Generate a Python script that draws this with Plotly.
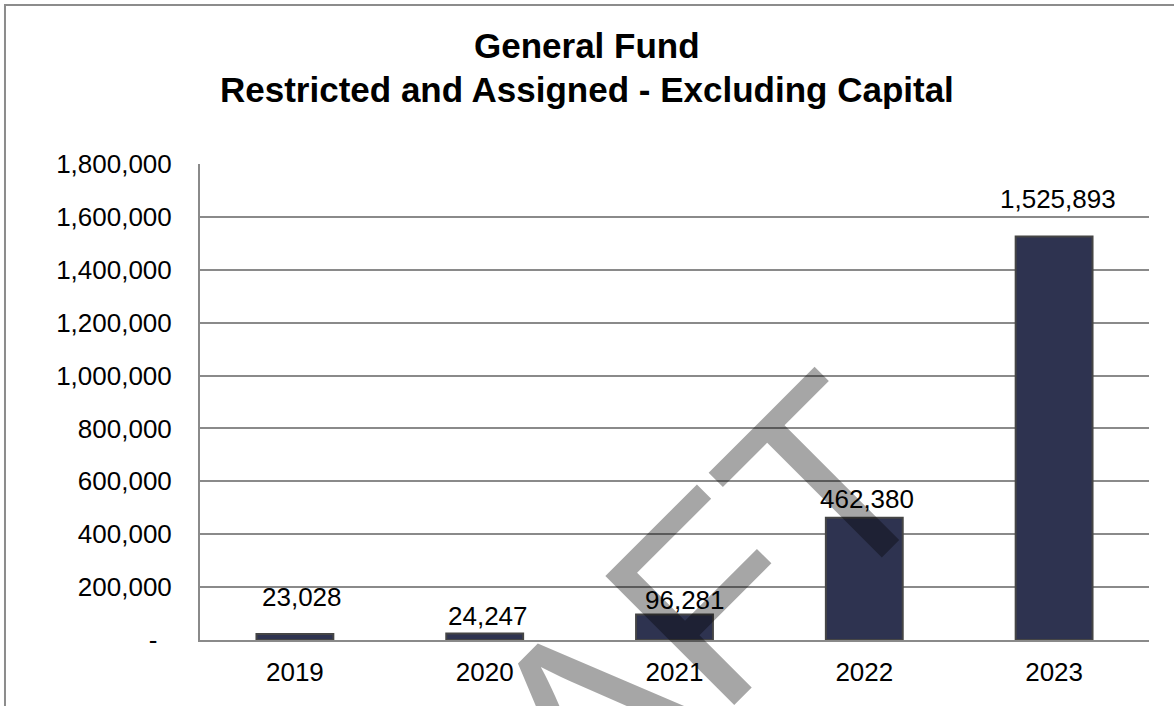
import plotly.graph_objects as go

# ---- data ----
years = ["2019", "2020", "2021", "2022", "2023"]
values = [23028, 24247, 96281, 462380, 1525893]
ytick_vals = [0, 200000, 400000, 600000, 800000, 1000000, 1200000, 1400000, 1600000, 1800000]
ytick_text = ["-\u00a0\u00a0", "200,000", "400,000", "600,000", "800,000", "1,000,000",
              "1,200,000", "1,400,000", "1,600,000", "1,800,000"]
title_line1 = "General Fund"
title_line2 = "Restricted and Assigned - Excluding Capital"
watermark = "DRAFT"

# ---- styling (label nudges, px) ----
label_yshift = [37, 18, 15, 19, 37]
label_xshift = [7, 3, 10, 3, 4]

FONT = "Liberation Sans, Arial, sans-serif"
GRID = "#8a8a8a"

fig = go.Figure()
fig.add_trace(go.Bar(
    x=years, y=values,
    marker=dict(color="#2e3350", line=dict(color="#454545", width=2)),
    hoverinfo="skip",
))

annotations = [
    dict(text=watermark, x=0.39, y=-0.208, xref="paper", yref="paper",
         xanchor="center", yanchor="middle", textangle=-45, showarrow=False,
         font=dict(family=FONT, size=265, color="rgba(0,0,0,0.35)")),
    dict(text="<b>" + title_line1 + "</b>", x=0.4078, y=1.2479, xref="paper", yref="paper",
         xanchor="center", yanchor="middle", showarrow=False,
         font=dict(family=FONT, size=35, color="black")),
    dict(text="<b>" + title_line2 + "</b>", x=0.4078, y=1.1565, xref="paper", yref="paper",
         xanchor="center", yanchor="middle", showarrow=False,
         font=dict(family=FONT, size=35, color="black")),
]
for i, (v, dy, dx) in enumerate(zip(values, label_yshift, label_xshift)):
    annotations.append(dict(
        text=f"{v:,}", x=i, y=v, xref="x", yref="y",
        xanchor="center", yanchor="middle", yshift=dy, xshift=dx, showarrow=False,
        font=dict(family=FONT, size=26, color="black")))

fig.update_layout(
    width=1174, height=706,
    margin=dict(l=200, r=25, t=164, b=66),
    paper_bgcolor="white", plot_bgcolor="white",
    showlegend=False,
    bargap=0.595,
    font=dict(family=FONT, size=26, color="black"),
    annotations=annotations,
    shapes=[dict(type="rect", xref="paper", yref="paper",
                 x0=-0.2055, x1=1.3, y0=-0.6, y1=1.334,
                 line=dict(color="#8c8c8c", width=2), fillcolor="rgba(0,0,0,0)",
                 layer="below")],
)
fig.update_xaxes(
    type="category", automargin=False, range=[-0.5, len(years) - 0.5],
    showgrid=False, showline=True, linecolor=GRID, linewidth=2,
    ticks="", ticklabelstandoff=8,
    tickfont=dict(family=FONT, size=26, color="black"),
)
fig.update_yaxes(
    range=[0, 1800000], tickvals=ytick_vals, ticktext=ytick_text, automargin=False,
    showgrid=True, gridcolor=GRID, gridwidth=1.5,
    showline=True, linecolor=GRID, linewidth=2, zeroline=False,
    ticks="", ticklabelstandoff=21,
    tickfont=dict(family=FONT, size=26, color="black"),
)

fig.write_html("out.html", config={"displayModeBar": False},
               post_script="document.body.style.margin='0px';")
